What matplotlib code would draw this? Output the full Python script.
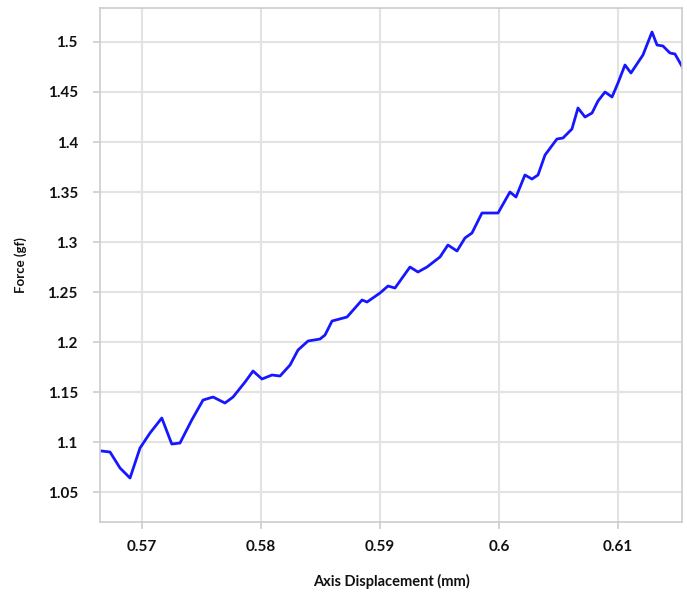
import matplotlib.pyplot as plt

# force vs displacement trace
displacement = [0.56661, 0.56731, 0.56815, 0.56899, 0.56983, 0.57067, 0.57166, 0.57250,
                0.57319, 0.57418, 0.57513, 0.57597, 0.57697, 0.57765, 0.57866, 0.57933,
                0.58008, 0.58092, 0.58160, 0.58244, 0.58311, 0.58395, 0.58496, 0.58538,
                0.58597, 0.58723, 0.58849, 0.58891, 0.59000, 0.59067, 0.59126, 0.59252,
                0.59319, 0.59395, 0.59504, 0.59571, 0.59647, 0.59714, 0.59773, 0.59857,
                0.59992, 0.60092, 0.60143, 0.60218, 0.60277, 0.60328, 0.60387, 0.60487,
                0.60538, 0.60613, 0.60664, 0.60723, 0.60782, 0.60832, 0.60891, 0.60950,
                0.61000, 0.61059, 0.61109, 0.61210, 0.61286, 0.61328, 0.61378, 0.61437,
                0.61479, 0.61546]
force = [1.091, 1.090, 1.074, 1.064, 1.094, 1.109, 1.124, 1.098,
         1.099, 1.122, 1.142, 1.145, 1.139, 1.145, 1.160, 1.171,
         1.163, 1.167, 1.166, 1.177, 1.192, 1.201, 1.203, 1.207,
         1.221, 1.225, 1.242, 1.240, 1.249, 1.256, 1.254, 1.275,
         1.270, 1.275, 1.285, 1.297, 1.291, 1.304, 1.309, 1.329,
         1.329, 1.350, 1.345, 1.367, 1.363, 1.367, 1.387, 1.403,
         1.404, 1.413, 1.434, 1.425, 1.429, 1.441, 1.450, 1.445,
         1.459, 1.477, 1.469, 1.487, 1.510, 1.497, 1.496, 1.489,
         1.488, 1.474]

x_ticks = [0.57, 0.58, 0.59, 0.60, 0.61]
x_labels = ['0.57', '0.58', '0.59', '0.6', '0.61']
y_ticks = [1.05, 1.1, 1.15, 1.2, 1.25, 1.3, 1.35, 1.4, 1.45, 1.5]
y_labels = ['1.05', '1.1', '1.15', '1.2', '1.25', '1.3', '1.35', '1.4', '1.45', '1.5']

plt.rcParams['font.family'] = ['Lato', 'DejaVu Sans']

fig = plt.figure(figsize=(6.87, 5.92), dpi=100)
ax = fig.add_axes([0.1456, 0.1182, 0.8471, 0.8683])

ax.plot(displacement, force, color='#1717ff', linewidth=2.0, solid_joinstyle='round')

ax.set_xlim(0.56647, 0.61538)
ax.set_ylim(1.020, 1.534)
ax.set_xticks(x_ticks)
ax.set_xticklabels(x_labels)
ax.set_yticks(y_ticks)
ax.set_yticklabels(y_labels)

ax.grid(True, color='#e3e3e3', linewidth=1.5)
ax.set_axisbelow(True)
for s in ax.spines.values():
    s.set_color('#cccccc')
    s.set_linewidth(1.2)

ax.tick_params(axis='both', length=5, width=1.2, color='#cccccc',
               labelsize=11, labelcolor='#111111')
ax.tick_params(axis='x', pad=8)
ax.tick_params(axis='y', pad=11)
for lbl in ax.get_xticklabels() + ax.get_yticklabels():
    lbl.set_fontweight('bold')

ax.set_xlabel('Axis Displacement (mm)', fontsize=10.5, fontweight='bold',
              color='#111111', labelpad=14)
ax.set_ylabel('Force (gf)', fontsize=9.5, fontweight='bold',
              color='#111111', labelpad=15)

fig.savefig('out.png', dpi=100)
